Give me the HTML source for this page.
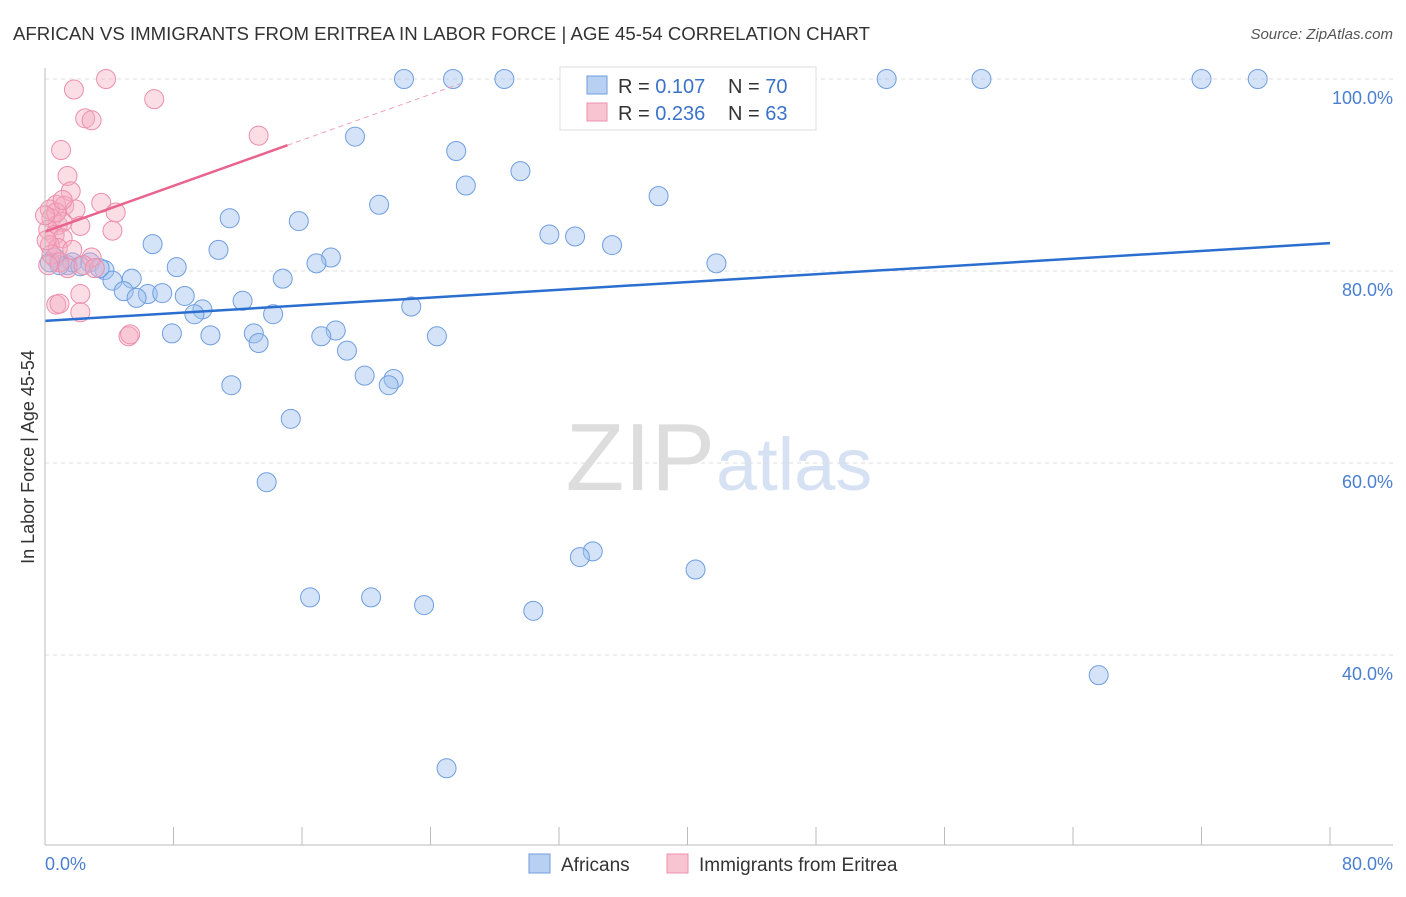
<!DOCTYPE html>
<html><head><meta charset="utf-8"><style>
body{margin:0;background:#fff;font-family:"Liberation Sans",sans-serif;}
svg text{font-family:"Liberation Sans",sans-serif;}
</style></head><body>
<svg id="c" width="1406" height="892">
<text x="13" y="40" font-size="18" fill="#333" textLength="857" lengthAdjust="spacingAndGlyphs">AFRICAN VS IMMIGRANTS FROM ERITREA IN LABOR FORCE | AGE 45-54 CORRELATION CHART</text>
<text x="1393" y="39" font-size="15" fill="#555" font-style="italic" text-anchor="end">Source: ZipAtlas.com</text>
<text x="715" y="490" font-size="96" fill="#ddd" text-anchor="end" font-family="Liberation Serif">ZIP</text>
<text x="716" y="490" font-size="74" fill="#d6e2f3">atlas</text>
<text transform="translate(34,457) rotate(-90)" font-size="18" fill="#333" text-anchor="middle">In Labor Force | Age 45-54</text>
<g id="grid"></g><g id="pts"></g><g id="lines"></g>
<line x1="45" y1="68" x2="45" y2="845" stroke="#bbb"/>
<line x1="45" y1="845" x2="1393" y2="845" stroke="#bbb"/>
<text x="45" y="870" font-size="18" fill="#4a7fd0">0.0%</text>
<text x="1393" y="870" font-size="18" fill="#4a7fd0" text-anchor="end">80.0%</text>
<g>
<rect x="560" y="67" width="256" height="63" fill="#fff" stroke="#ddd"/>
<rect x="587" y="76" width="20" height="18" fill="#b8d0f2" stroke="#6f9ee0"/>
<rect x="587" y="103" width="20" height="18" fill="#f8c4d2" stroke="#ec8fab"/>
<text x="618" y="93" font-size="20" fill="#333">R = <tspan fill="#3b73c8">0.107</tspan></text>
<text x="728" y="93" font-size="20" fill="#333">N = <tspan fill="#3b73c8">70</tspan></text>
<text x="618" y="120" font-size="20" fill="#333">R = <tspan fill="#3b73c8">0.236</tspan></text>
<text x="728" y="120" font-size="20" fill="#333">N = <tspan fill="#3b73c8">63</tspan></text>
</g>
<g>
<rect x="529" y="854" width="21" height="19" fill="#b8d0f2" stroke="#6f9ee0"/>
<text x="561" y="871" font-size="19" fill="#333">Africans</text>
<rect x="667" y="854" width="21" height="19" fill="#f8c4d2" stroke="#ec8fab"/>
<text x="699" y="871" font-size="19" fill="#333">Immigrants from Eritrea</text>
</g>
</svg>
<script>
const yTicks=[100,80,60,40];
const xTicks=[0,8,16,24,32,40,48,56,64,72,80];
const blueX=[22.35,25.4,28.6,43.3,52.4,58.3,72.0,75.5,19.3,25.6,26.2,29.6,38.2,20.8,11.5,15.8,31.4,33.0,35.3,6.7,10.8,17.8,16.9,41.8,8.2,2.8,3.7,1.4,0.6,5.4,4.2,14.8,4.9,6.4,7.3,8.7,5.7,12.3,9.8,9.3,14.2,22.8,18.1,17.2,7.9,10.3,13.0,13.3,24.4,18.8,19.9,21.7,21.4,11.6,15.3,13.8,34.1,33.3,40.5,16.5,20.3,23.6,30.4,65.6,25.0,1.7,3.4,0.9,2.2,0.3];
const blueY=[100,100,100,100,100,100,100,100,94.0,92.5,88.9,90.4,87.8,86.9,85.5,85.2,83.8,83.6,82.7,82.8,82.2,81.4,80.8,80.8,80.4,80.9,80.1,80.6,81.4,79.2,79.0,79.2,77.9,77.6,77.7,77.4,77.2,76.9,76.0,75.5,75.5,76.3,73.8,73.2,73.5,73.3,73.5,72.5,73.2,71.7,69.1,68.75,68.1,68.1,64.6,58.0,50.8,50.2,48.9,46.0,46.0,45.2,44.6,37.9,28.2,80.9,80.3,80.6,80.5,80.9];
const pinkX=[3.8,1.8,6.8,2.5,2.9,13.3,1.0,1.4,1.6,0.7,1.2,1.9,3.5,4.4,0.3,0.4,0.8,1.1,2.2,0.2,0.6,1.1,4.2,0.3,0.8,1.7,2.9,0.4,0.9,1.4,2.4,3.1,2.2,0.7,0.9,2.2,5.2,5.3,0.2,0.1,0.7,1.1,0];
const pinkY=[100,98.9,97.9,95.9,95.7,94.1,92.6,89.9,88.3,86.9,86.8,86.4,87.1,86.1,86.4,85.5,84.8,85.1,84.7,84.3,83.75,83.4,84.2,82.7,82.4,82.2,81.4,81.7,80.9,80.3,80.6,80.3,77.6,76.5,76.6,75.7,73.2,73.4,80.6,83.2,86.1,87.4,85.8];
const blueTrend=[74.8,82.9];
const pinkTrend=[84.1,93.1,15.1];
const NS="http://www.w3.org/2000/svg";
const sx=v=>45+v/80*1285, sy=v=>79+(100-v)*9.6;
function mk(t,a,p){const e=document.createElementNS(NS,t);for(const k in a)e.setAttribute(k,a[k]);p.appendChild(e);return e;}
const grid=document.getElementById('grid');
yTicks.forEach(t=>{
 const l=mk('line',{x1:45,x2:1393,y1:sy(t),y2:sy(t),stroke:'#ddd','stroke-dasharray':'4,4'},grid);
 
 
 const tx=mk('text',{x:1393,y:sy(t)+25,'font-size':18,fill:'#4a7fd0','text-anchor':'end'},grid);
 tx.textContent=t.toFixed(1)+'%';
 
 
});
xTicks.slice(1).forEach(t=>{
 const l=mk('line',{x1:sx(t),x2:sx(t),y1:827,y2:845,stroke:'#bbb'},grid);
 
 
});
const pts=document.getElementById('pts');
blueX.forEach((x,i)=>{
 const c=mk('circle',{cx:sx(x),cy:sy(blueY[i]),r:9.5,fill:'rgba(160,192,238,0.45)',stroke:'#6f9ee0','stroke-width':1},pts);
 
 
});
pinkX.forEach((x,i)=>{
 const c=mk('circle',{cx:sx(x),cy:sy(pinkY[i]),r:9.5,fill:'rgba(245,170,192,0.4)',stroke:'#ec8fab','stroke-width':1},pts);
 
 
});
const lines=document.getElementById('lines');
const bl=mk('line',{x1:sx(0),y1:sy(blueTrend[0]),x2:sx(80),y2:sy(blueTrend[1]),stroke:'#2a6fd0','stroke-width':2.5},lines);


const slope=(pinkTrend[1]-pinkTrend[0])/pinkTrend[2];
const pl=mk('line',{x1:sx(0),y1:sy(pinkTrend[0]),x2:sx(pinkTrend[2]),y2:sy(pinkTrend[1]),stroke:'#e8638e','stroke-width':2.5},lines);


const xe=(99.5-pinkTrend[0])/slope;
const pd=mk('line',{x1:sx(pinkTrend[2]),y1:sy(pinkTrend[1]),x2:sx(xe),y2:sy(99.5),stroke:'#f0a0b8','stroke-width':1,'stroke-dasharray':'5,4'},lines);


</script>
</body></html>
